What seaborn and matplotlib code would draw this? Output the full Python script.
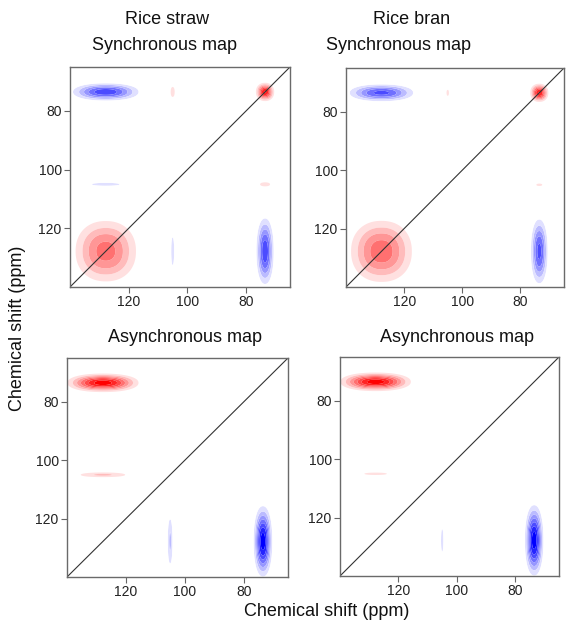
import numpy as np
import matplotlib
matplotlib.use("Agg")
import matplotlib.pyplot as plt
import seaborn as sns

sns.set_theme(style="ticks")
plt.rcParams["font.family"] = ["Liberation Sans", "DejaVu Sans"]

# Resolved carbon bands (ppm) and their line widths (ppm)
band_ppm = [73.5, 105.0, 127.8]
band_width = [2.0, 0.8, 7.6]

# Correlation intensities between bands: row = band on x, column = band on y
sync_straw = [[0.85, 0.12, -0.62],
              [0.12, 0.00, -0.085],
              [-0.62, -0.085, 0.42]]
sync_bran = [[0.85, 0.075, -0.55],
             [0.075, 0.00, 0.00],
             [-0.55, 0.00, 0.45]]
async_straw = [[0.00, 0.00, -0.95],
               [0.00, 0.00, -0.16],
               [0.95, 0.16, 0.00]]
async_bran = [[0.00, 0.00, -0.95],
              [0.00, 0.00, -0.075],
              [0.95, 0.075, 0.00]]

samples = ["Rice straw", "Rice bran"]
map_titles = ["Synchronous map", "Asynchronous map"]
tick_values = [80, 100, 120]
ppm_range = (140, 65)

# Contour thresholds (fraction of full scale)
thresholds = [0.06, 0.14, 0.24, 0.36, 0.5, 0.66, 0.84]


def band_shape(ppm, centre, width, p=2.2):
    return np.exp(-np.abs((ppm - centre) / width) ** p)


def correlation_map(matrix, grid):
    X, Y = np.meshgrid(grid, grid)
    Z = np.zeros_like(X)
    for i, (ci, wi) in enumerate(zip(band_ppm, band_width)):
        for j, (cj, wj) in enumerate(zip(band_ppm, band_width)):
            if matrix[i][j] != 0:
                Z += matrix[i][j] * band_shape(X, ci, wi) * band_shape(Y, cj, wj)
    return X, Y, Z


n = len(thresholds)
shade = [0.12 + k * 0.88 / (n - 1) for k in range(n)]
reds = [(1.0, 1 - t, 1 - t) for t in shade]
blues = [(1 - t, 1 - t, 1.0) for t in shade]
levels = [-5] + [-v for v in thresholds[::-1]] + thresholds + [5]
colors = blues[::-1] + [(1, 1, 1)] + reds

W, H = 566, 630
fig = plt.figure(figsize=(W / 100, H / 100), dpi=100)

boxes = [[(70, 67, 290, 287), (346, 68, 564, 287)],
         [(67, 358, 288, 577), (340, 357, 559, 576)]]
maps = [[sync_straw, sync_bran], [async_straw, async_bran]]

grid = np.linspace(ppm_range[0], ppm_range[1], 700)

for r in range(2):
    for c in range(2):
        x0, y0, x1, y1 = boxes[r][c]
        ax = fig.add_axes([x0 / W, 1 - y1 / H, (x1 - x0) / W, (y1 - y0) / H])
        X, Y, Z = correlation_map(maps[r][c], grid)
        ax.contourf(X, Y, Z, levels=levels, colors=colors, antialiased=True)
        ax.axline((ppm_range[1], ppm_range[1]), (ppm_range[0], ppm_range[0]),
                  color="#333333", lw=0.8)
        ax.set_xlim(*ppm_range)
        ax.set_ylim(*ppm_range)
        ax.set_xticks(tick_values)
        ax.set_yticks(tick_values)
        ax.set_xticklabels([str(v) for v in tick_values])
        ax.set_yticklabels([str(v) for v in tick_values])
        ax.tick_params(direction="out", length=4, width=0.8, color="#666666",
                       labelsize=10, labelcolor="#222222", pad=2,
                       bottom=True, left=True, top=False, right=False)
        for s in ax.spines.values():
            s.set_color("#6a6a6a")
            s.set_linewidth(1.0)
        ax.set_facecolor("white")

# Column and panel headings
fig.text(167 / W, 1 - 20 / H, samples[0], ha="center", va="center", fontsize=13, color="#111111")
fig.text(412 / W, 1 - 20 / H, samples[1], ha="center", va="center", fontsize=13, color="#111111")
fig.text(165 / W, 1 - 46 / H, map_titles[0], ha="center", va="center", fontsize=13, color="#111111")
fig.text(398 / W, 1 - 46 / H, map_titles[0], ha="center", va="center", fontsize=13, color="#111111")
fig.text(185 / W, 1 - 337 / H, map_titles[1], ha="center", va="center", fontsize=13, color="#111111")
fig.text(457 / W, 1 - 337 / H, map_titles[1], ha="center", va="center", fontsize=13, color="#111111")

fig.text(327 / W, 1 - 612 / H, "Chemical shift (ppm)", ha="center", va="center", fontsize=13, color="#111111")
fig.text(18 / W, 1 - 328 / H, "Chemical shift (ppm)", ha="center", va="center", rotation=90,
         fontsize=13, color="#111111")

fig.savefig("out.png", dpi=100)
